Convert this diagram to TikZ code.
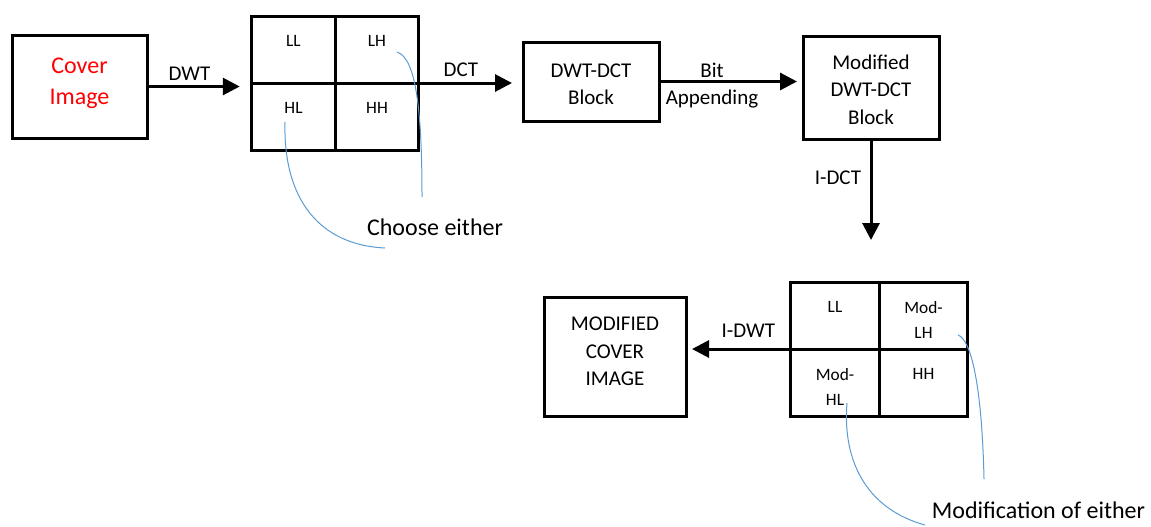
\documentclass[tikz,border=0pt]{standalone}
\usepackage{fontspec}
\setmainfont{Carlito}
\usepackage{tikz}
\usetikzlibrary{arrows.meta,positioning}

\newlength\px
\setlength\px{0.75pt}
\newcommand\bigtxt{\fontsize{18}{24}\selectfont}
\newcommand\midtxt{\fontsize{15.75}{20.6}\selectfont}
\newcommand\smalltxt{\fontsize{13}{18.75}\selectfont}
\definecolor{noteblue}{RGB}{91,155,213}

\begin{document}
\begin{tikzpicture}[x=0.75pt, y=-0.75pt, every node/.style={font=\midtxt, outer sep=0pt},
    box/.style={draw, line width=3\px, inner sep=0pt},
    cell/.style={draw, line width=3\px, minimum width=#1, minimum height=67\px},
    celltxt/.style={font=\smalltxt, inner sep=0pt, align=center},
    lbl/.style={inner sep=0pt, align=center},
    flow/.style={line width=3\px, -{Triangle[length=12.75pt,width=12.75pt]}},
    note/.style={draw=noteblue, line width=1\px}]

    \useasboundingbox (0,0) rectangle (1151,526);

    \node[box, minimum width=135\px, minimum height=103\px] (cover) at (79.5,86.5) {};
    \node[lbl, text=red, font=\fontsize{18}{23}\selectfont] (tcover) at ([yshift=3.5\px]cover.center) {Cover\\Image};

    % first decomposition
    \node[cell=83.5\px] (ll1) at (293.5,49.5) {};
    \node[cell=83.5\px, right=0pt of ll1] (lh1) {};
    \node[cell=83.5\px, below=0pt of ll1] (hl1) {};
    \node[cell=83.5\px, right=0pt of hl1] (hh1) {};
    \node[celltxt, below=19\px of ll1.north] (tll1) {LL};
    \node[celltxt, below=19\px of lh1.north] (tlh1) {LH};
    \node[celltxt, below=19\px of hl1.north] (thl1) {HL};
    \node[celltxt, below=19\px of hh1.north] (thh1) {HH};

    \node[box, minimum width=136\px, minimum height=79\px] (dwtdct) at (591,81.5) {};
    \node[lbl] (tdwtdct) at ([yshift=-2.5\px]dwtdct.center) {DWT-DCT\\Block};
    \node[box, minimum width=136\px, minimum height=103\px] (modblk) at (871,87.5) {};
    \node[lbl] (tmodblk) at ([yshift=-2\px]modblk.center) {Modified\\DWT-DCT\\Block};

    % second decomposition
    \node[cell=88.5\px] (ll2) at (835,315.5) {};
    \node[cell=88.5\px, right=0pt of ll2] (lh2) {};
    \node[cell=88.5\px, below=0pt of ll2] (hl2) {};
    \node[cell=88.5\px, right=0pt of hl2] (hh2) {};
    \node[celltxt, below=19\px of ll2.north] (tll2) {LL};
    \node[celltxt, below=19\px of lh2.north] (tlh2) {Mod-\\LH};
    \node[celltxt, below=19\px of hl2.north] (thl2) {Mod-\\HL};
    \node[celltxt, below=19\px of hh2.north] (thh2) {HH};

    \node[box, minimum width=142\px, minimum height=119\px] (outimg) at (615,356.5) {};
    \node[lbl] (toutimg) at ([yshift=5\px]outimg.center) {MODIFIED\\COVER\\IMAGE};

    \node[font=\bigtxt, inner sep=0pt] (choose) at (435,227) {Choose either};
    \node[font=\bigtxt, inner sep=0pt] (modif) at (1038.5,510) {Modification of either};

    \draw[flow, shorten >=9pt] (cover.east) -- (cover.east -| ll1.west)
        node[lbl, midway, above=6\px, xshift=-10\px] (dwt) {DWT};
    \draw[flow, shorten >=8.25pt] (hh1.north east) -- (hh1.north east -| dwtdct.west)
        node[lbl, midway, above=6\px, xshift=-10\px] (dct) {DCT};
    \draw[flow, shorten >=4.5pt] (dwtdct.east) -- (dwtdct.east -| modblk.west)
        node[lbl, midway, xshift=-19\px, yshift=-4\px] (bit) {Bit\\Appending};
    \draw[flow, shorten >=31.5pt] (modblk.south) -- (modblk.south |- ll2.north)
        node[lbl, pos=0.27, left=10\px] (idct) {I-DCT};
    \draw[flow, shorten >=4.5pt] (ll2.south west) -- (ll2.south west -| outimg.east)
        node[lbl, midway, above=12\px, xshift=10\px] (idwt) {I-DWT};

    % pointer curves
    \coordinate (chA) at (422,197);
    \coordinate (chB) at (385,248);
    \coordinate (mdA) at (984,479);
    \coordinate (mdB) at (925,525);
    \draw[note] ([shift={(20,2.5)}]lh1.center) .. controls (416,58) and (422,110) .. (chA);
    \draw[note] ([shift={(-8.5,5.5)}]hl1.center) .. controls (283,200) and (320,245) .. (chB);
    \draw[note] ([shift={(34.5,19.5)}]lh2.center) .. controls (972,340) and (982,390) .. (mdA);
    \draw[note] ([shift={(12,20.5)}]hl2.center) .. controls (842,465) and (870,510) .. (mdB);
\end{tikzpicture}
\end{document}
